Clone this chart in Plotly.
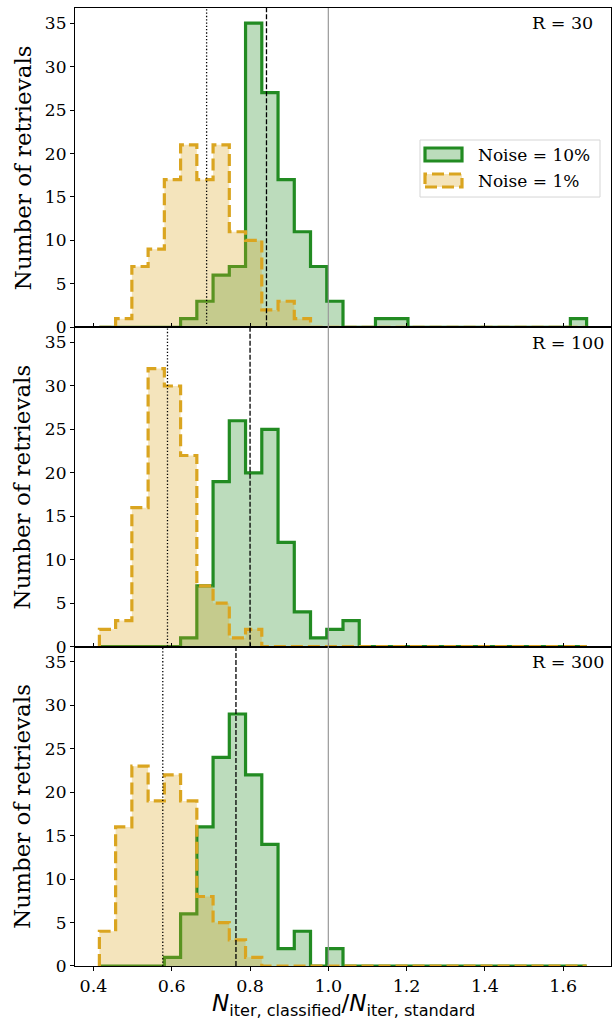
import numpy as np
import plotly.graph_objects as go
from plotly.subplots import make_subplots

# ---- data ----
bin_min, bin_max, n_bins = 0.415, 1.66, 30
resolutions = ["R = 30", "R = 100", "R = 300"]

counts_noise10 = {
    "R = 30":  [0,0,0,0,0,1,3,6,7,35,27,17,11,7,3,0,0,1,1,0,0,0,0,0,0,0,0,0,0,1],
    "R = 100": [0,0,0,0,0,1,7,19,26,20,25,12,4,1,2,3,0,0,0,0,0,0,0,0,0,0,0,0,0,0],
    "R = 300": [0,0,0,0,1,6,16,24,29,22,14,2,4,0,2,0,0,0,0,0,0,0,0,0,0,0,0,0,0,0],
}
counts_noise1 = {
    "R = 30":  [0,1,7,9,17,21,17,21,11,10,2,3,1,0,0,0,0,0,0,0,0,0,0,0,0,0,0,0,0,0],
    "R = 100": [2,3,16,32,30,22,7,5,1,2,0,0,0,0,0,0,0,0,0,0,0,0,0,0,0,0,0,0,0,0],
    "R = 300": [4,16,23,19,22,19,8,5,3,1,0,0,0,0,0,0,0,0,0,0,0,0,0,0,0,0,0,0,0,0],
}
median_noise10 = {"R = 30": 0.842, "R = 100": 0.800, "R = 300": 0.764}
median_noise1 = {"R = 30": 0.689, "R = 100": 0.589, "R = 300": 0.577}
reference_ratio = 1.0

legend_labels = ["Noise = 10%", "Noise = 1%"]
x_ticks = [0.4, 0.6, 0.8, 1.0, 1.2, 1.4, 1.6]
x_tick_labels = ["0.4", "0.6", "0.8", "1.0", "1.2", "1.4", "1.6"]
y_ticks = [0, 5, 10, 15, 20, 25, 30, 35]
x_title = "<i>N</i><sub>iter, classified</sub>/<i>N</i><sub>iter, standard</sub>"
y_title = "Number of retrievals"

edges = np.linspace(bin_min, bin_max, n_bins + 1)

GREEN = "rgb(34,139,34)"
GREEN_FILL = "rgba(34,139,34,0.3)"
GOLD = "rgb(218,165,32)"
GOLD_FILL = "rgba(218,165,32,0.3)"
GOLD_DASH = "12px,5px"
SERIF = "DejaVu Serif"
LW = 3.2


def step_xy(counts):
    xs, ys = [edges[0]], [0]
    for i, c in enumerate(counts):
        xs += [edges[i], edges[i + 1]]
        ys += [c, c]
    xs.append(edges[-1])
    ys.append(0)
    return xs, ys


fig = make_subplots(rows=3, cols=1, shared_xaxes=True, vertical_spacing=0)

for r, res in enumerate(resolutions, start=1):
    xs, ys = step_xy(counts_noise10[res])
    fig.add_trace(go.Scatter(x=xs, y=ys, mode="lines", fill="toself",
                             fillcolor=GREEN_FILL, line=dict(color=GREEN, width=LW),
                             name=legend_labels[0], showlegend=False,
                             hoverinfo="skip"), row=r, col=1)
    xs, ys = step_xy(counts_noise1[res])
    fig.add_trace(go.Scatter(x=xs, y=ys, mode="lines", fill="toself",
                             fillcolor=GOLD_FILL,
                             line=dict(color=GOLD, width=LW, dash=GOLD_DASH),
                             name=legend_labels[1], showlegend=False,
                             hoverinfo="skip"), row=r, col=1)
    yref = "y domain" if r == 1 else f"y{r} domain"
    xref = "x" if r == 1 else f"x{r}"
    xdom = "x domain" if r == 1 else f"x{r} domain"
    fig.add_shape(type="line", x0=reference_ratio, x1=reference_ratio, y0=0, y1=1,
                  xref=xref, yref=yref, line=dict(color="#999999", width=1.2))
    fig.add_shape(type="line", x0=median_noise1[res], x1=median_noise1[res], y0=0, y1=1,
                  xref=xref, yref=yref, line=dict(color="black", width=1.3, dash="1.3px,2px"))
    fig.add_shape(type="line", x0=median_noise10[res], x1=median_noise10[res], y0=0, y1=1,
                  xref=xref, yref=yref, line=dict(color="black", width=1.3, dash="5px,2px"))
    fig.add_annotation(text=res, xref=xdom, yref=yref, x=(530 - 75) / 536.0, y=0.99,
                       xanchor="left", yanchor="top", showarrow=False,
                       font=dict(family=SERIF, size=17.5, color="black"))
    # y-axis title
    fig.add_annotation(text=y_title, xref="paper", yref=yref, x=-0.098, y=0.5,
                       xanchor="center", yanchor="middle", textangle=-90,
                       showarrow=False, font=dict(family=SERIF, size=23, color="black"))
    fig.update_yaxes(row=r, col=1, range=[0, 36.75], tickvals=y_ticks,
                     ticks="outside", ticklen=4, tickcolor="black",
                     showline=True, linecolor="black", linewidth=1.2, mirror=True,
                     showgrid=False, zeroline=False, automargin=False,
                     tickfont=dict(family=SERIF, size=17, color="black"))
    fig.update_xaxes(row=r, col=1, range=[0.3527, 1.7223], tickvals=x_ticks,
                     ticktext=x_tick_labels,
                     ticks="outside" if r == 3 else "inside", ticklen=4,
                     tickcolor="black", showline=True, linecolor="black",
                     linewidth=1.2, mirror=True, showgrid=False, zeroline=False,
                     automargin=False,
                     tickfont=dict(family=SERIF, size=17.5, color="black"),
                     showticklabels=(r == 3))

# x-axis title
fig.add_annotation(text=x_title, xref="paper", yref="paper", x=0.5, y=-0.0585,
                   xanchor="center", yanchor="bottom", showarrow=False,
                   font=dict(family="DejaVu Sans", size=23, color="black"))

# legend drawn in the top panel (matplotlib style patches)
def px_x(px):
    return (px - 75) / 536.0


def px_y(py):
    return 1 - (py - 8) / 319.3


fig.add_shape(type="rect", xref="x domain", yref="y domain",
              x0=px_x(420), x1=px_x(600), y0=px_y(197), y1=px_y(140),
              line=dict(color="#d5d5d5", width=1), fillcolor="rgba(255,255,255,0.8)")
fig.add_shape(type="rect", xref="x domain", yref="y domain",
              x0=px_x(425), x1=px_x(462), y0=px_y(161), y1=px_y(148),
              line=dict(color=GREEN, width=LW), fillcolor=GREEN_FILL)
fig.add_shape(type="rect", xref="x domain", yref="y domain",
              x0=px_x(425), x1=px_x(462), y0=px_y(187), y1=px_y(174),
              line=dict(color=GOLD, width=LW, dash=GOLD_DASH), fillcolor=GOLD_FILL)
for label, py in zip(legend_labels, [154.5, 180.5]):
    fig.add_annotation(text=label, xref="x domain", yref="y domain",
                       x=px_x(476), y=px_y(py), xanchor="left", yanchor="middle",
                       showarrow=False, font=dict(family=SERIF, size=17, color="black"))

fig.update_layout(
    width=612, height=1023,
    margin=dict(l=75, r=1, t=8, b=57, autoexpand=False),
    plot_bgcolor="white", paper_bgcolor="white",
    showlegend=False,
)

fig.write_html("out.html", config={"displayModeBar": False},
               post_script="document.body.style.margin='0';document.body.style.overflow='hidden';")
